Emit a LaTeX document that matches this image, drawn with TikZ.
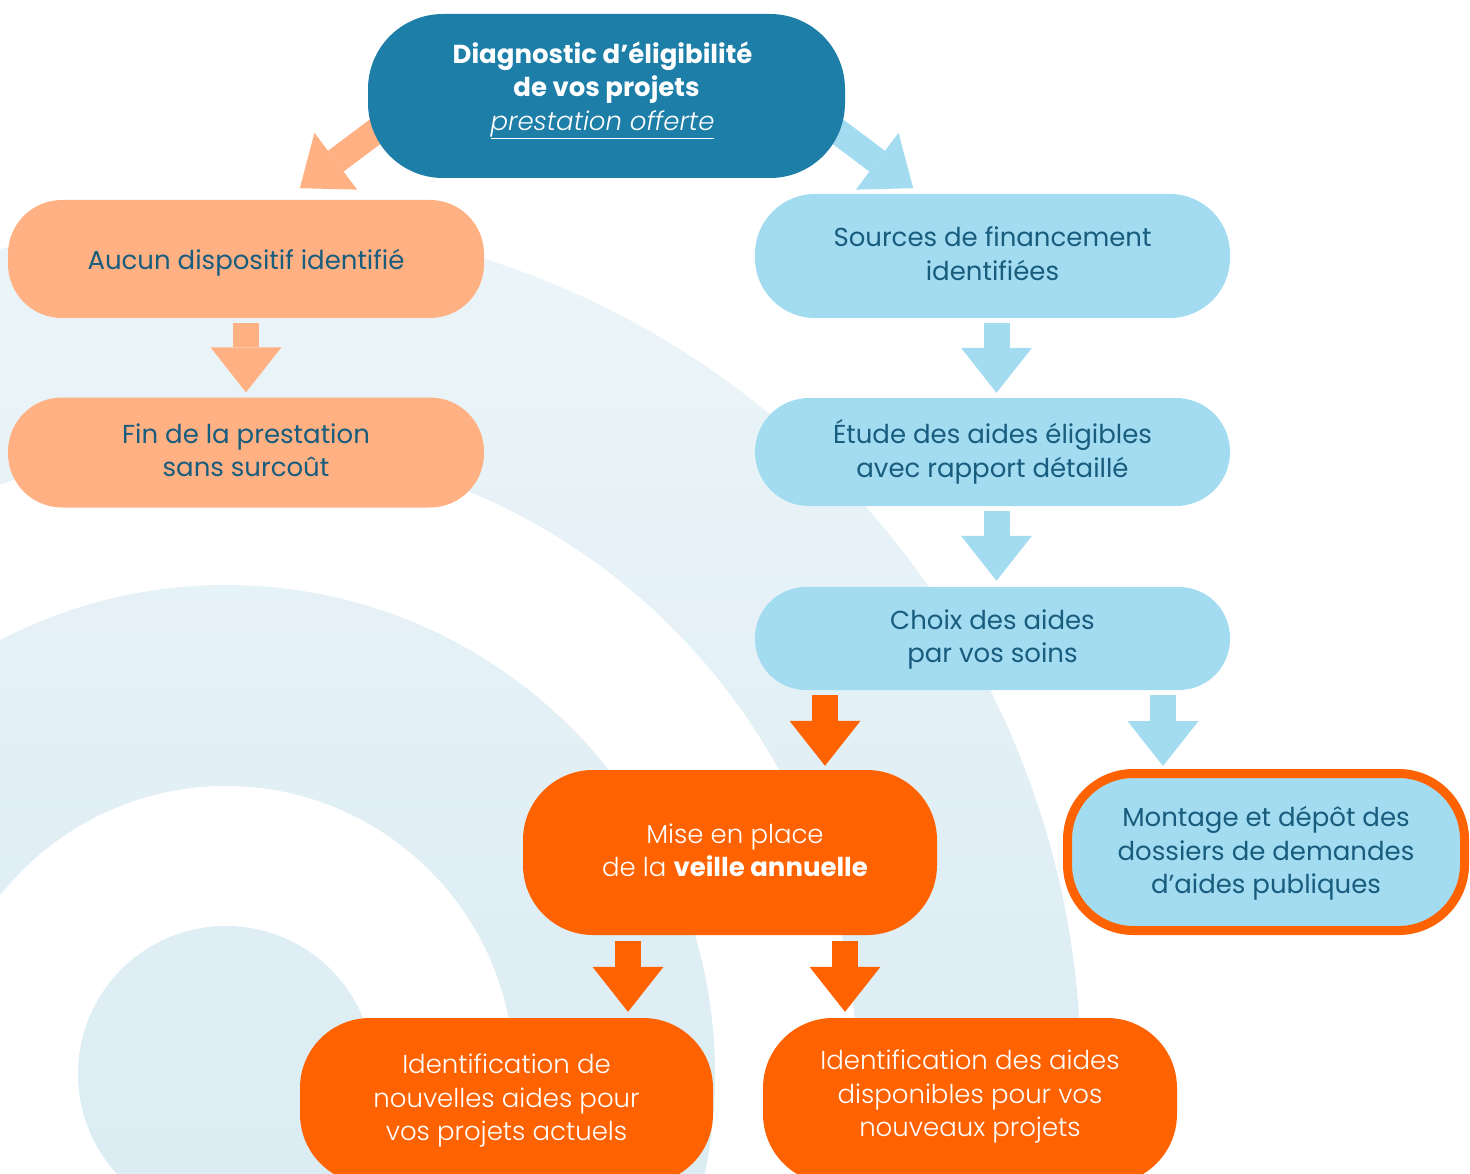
\documentclass[tikz,border=0pt]{standalone}
\usepackage{fontspec}
\setmainfont{Poppins}
\newfontfamily\poplight{Poppins Light}[ItalicFont=Poppins Light Italic,BoldFont=Poppins Bold]
\usepackage{xcolor}
\usetikzlibrary{arrows.meta,calc}

\definecolor{diagblue}{RGB}{29,126,168}
\definecolor{peach}{RGB}{255,177,131}
\definecolor{sky}{RGB}{163,220,241}
\definecolor{orangeV}{RGB}{255,98,0}
\definecolor{inkblue}{RGB}{24,92,126}
\definecolor{ringtop}{RGB}{236,245,249}
\definecolor{ringbot}{RGB}{205,229,238}

\pgfdeclarelayer{bg}
\pgfdeclarelayer{mid}
\pgfsetlayers{bg,mid,main}

\begin{document}
\begin{tikzpicture}[x=1pt,y=-1pt,
	txt/.style={rectangle,align=center,inner sep=0pt,font=\fontsize{26}{33.4}\selectfont,text height=59.4pt,text depth=11pt},
	diagbox/.style={txt,fill=diagblue,text=white,minimum width=477,minimum height=164,rounded corners=75},
	peachbox/.style={txt,fill=peach,text=inkblue,minimum width=476,rounded corners=54},
	skybox/.style={txt,fill=sky,text=inkblue,minimum width=475,rounded corners=51},
	orbox/.style={txt,fill=orangeV,text=white,minimum width=414,minimum height=165,rounded corners=70,font=\fontsize{26}{33.4}\poplight},
	montbox/.style={txt,fill=sky,draw=orangeV,line width=9,text=inkblue,minimum width=397,minimum height=157,rounded corners=66},
	blockarrow/.style={line width=26,-{Triangle[width=71pt,length=45pt,line width=0pt]}},
	peacharrow/.style={blockarrow,draw=peach,fill=peach},
	skyarrow/.style={blockarrow,draw=sky,fill=sky},
	orarrow/.style={blockarrow,draw=orangeV,fill=orangeV}]
	\useasboundingbox (0,0) rectangle (1470,1174);
	% fond : anneaux
	\begin{pgfonlayer}{bg}
		\begin{scope}
			\clip (0,0) rectangle (1470,1174);
			\shade[even odd rule,top color=ringtop,bottom color=ringbot] (226,1074) circle[radius=855] circle[radius=631] circle[radius=489] circle[radius=288] circle[radius=148];
		\end{scope}
	\end{pgfonlayer}
	% diagnostic
	\node[diagbox,text height=92.8pt,text depth=24.6pt] (diag) at (606.5,96) {\textbf{Diagnostic d’éligibilité}\hspace*{8pt}\\ \textbf{de vos projets}\hspace*{8pt}\\ {\poplight\itshape\underline{prestation offerte}}\hspace*{8pt}};
	% branche gauche
	\node[peachbox,minimum height=118,text height=30pt,text depth=9.4pt] (aucun) at (246,259) {Aucun dispositif identifié};
	\node[peachbox,minimum height=110] (fin) at (246,452.5) {Fin de la prestation\\ sans surcoût};
	% branche droite
	\node[skybox,minimum height=124,rounded corners=60] (sources) at (992.5,256) {Sources de financement\\ identifiées};
	\node[skybox,minimum height=108,rounded corners=54,text height=60.4pt,text depth=10.4pt] (etude) at (992.5,452) {Étude des aides éligibles\\ avec rapport détaillé};
	\node[skybox,minimum height=103] (choix) at (992.5,638.5) {Choix des aides\\ par vos soins};
	\node[orbox] (mise) at (730,852.5) {\hspace*{10pt}Mise en place\\ \hspace*{10pt}de la \textbf{veille annuelle}};
	\node[montbox,text height=92.8pt,text depth=10pt] (montage) at (1266,852) {Montage et dépôt des\\ dossiers de demandes\\ d’aides publiques};
	\node[orbox,minimum width=413,minimum height=166,text height=92.8pt,text depth=14pt] (actuels) at (506.5,1101) {Identification de\\ nouvelles aides pour\\ vos projets actuels};
	\node[orbox,minimum height=166,text height=92.8pt,text depth=22pt] (nouveaux) at (970,1101) {Identification des aides\\ disponibles pour vos\\ nouveaux projets};
	% fleches
	\coordinate (tailL) at ($(diag.south west)+(20,-56)$);
	\coordinate (tipL) at ($(diag.south west)+(-68,10)$);
	\coordinate (tailR) at ($(diag.south east)+(-20,-56)$);
	\coordinate (tipR) at ($(diag.south east)+(68,10)$);
	\begin{pgfonlayer}{mid}
		\draw[peacharrow] (tailL) -- (tipL);
		\draw[skyarrow] (tailR) -- (tipR);
		\draw[peacharrow] ($(aucun.south)+(0,5)$) -- ($(fin.north)+(0,-5)$);
		\draw[skyarrow] ($(sources.south)+(4,5)$) -- ($(etude.north)+(4,-5)$);
		\draw[skyarrow] ($(etude.south)+(4,5)$) -- ($(choix.north)+(4,-6)$);
		\draw[orarrow] ($(choix.south)+(-167.5,5)$) -- ($(mise.north)+(95,-4)$);
		\draw[skyarrow] ($(choix.south)+(170.5,5)$) -- ($(montage.north)+(-103,-3)$);
		\draw[orarrow] ($(mise.south)+(-102,6)$) -- ($(actuels.north)+(121.5,-6)$);
		\draw[orarrow] ($(mise.south)+(115,6)$) -- ($(nouveaux.north)+(-125,-6)$);
	\end{pgfonlayer}
\end{tikzpicture}
\end{document}
